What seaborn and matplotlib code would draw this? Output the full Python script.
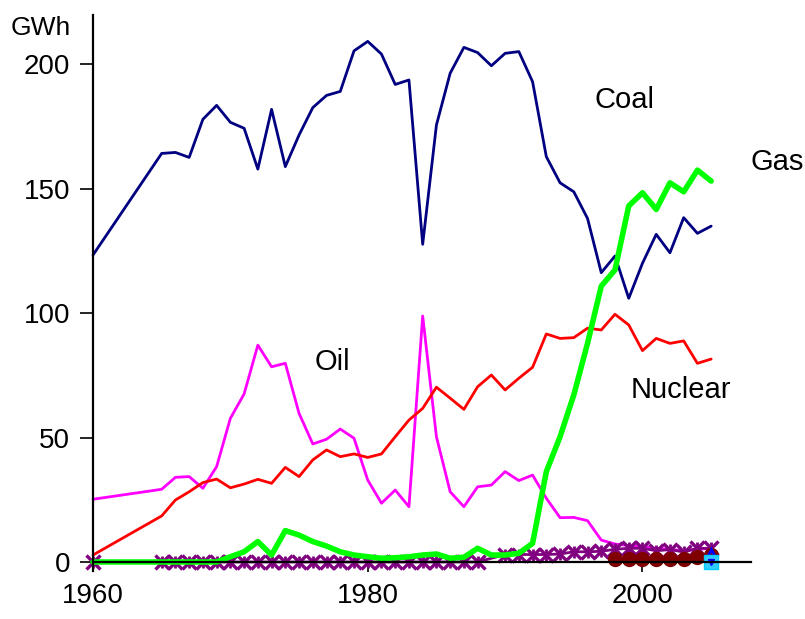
import numpy as np
import pandas as pd
import matplotlib
matplotlib.use("Agg")
import matplotlib.pyplot as plt
import seaborn as sns

# years: 1960, then every year 1965-2005
years = [1960, 1965, 1966, 1967, 1968, 1969, 1970, 1971, 1972, 1973, 1974,
         1975, 1976, 1977, 1978, 1979, 1980, 1981, 1982, 1983, 1984, 1985,
         1986, 1987, 1988, 1989, 1990, 1991, 1992, 1993, 1994, 1995, 1996,
         1997, 1998, 1999, 2000, 2001, 2002, 2003, 2004, 2005]

coal = [123.3, 164.1, 164.5, 162.5, 177.8, 183.4, 176.6, 174.2, 157.8, 181.8, 158.8,
        171.5, 182.5, 187.4, 189.0, 205.3, 209.1, 204.0, 191.8, 193.6, 127.6, 175.5,
        196.3, 206.7, 204.6, 199.3, 204.3, 205.0, 192.9, 162.8, 152.3, 148.7, 138.0,
        116.2, 122.9, 105.9, 120.0, 131.6, 124.2, 138.3, 132.0, 134.9]

oil = [25.2, 29.2, 34.0, 34.3, 29.6, 38.3, 57.7, 67.5, 87.1, 78.4, 79.8,
       59.7, 47.4, 49.3, 53.4, 49.7, 32.9, 23.6, 28.9, 22.2, 98.8, 50.3,
       28.2, 22.2, 30.2, 30.9, 36.3, 32.7, 34.9, 25.6, 17.8, 17.9, 16.6,
       8.8, 7.2, 6.6, 6.1, 5.5, 5.1, 4.5, 5.1, 5.5]

nuclear = [2.8, 18.5, 24.9, 28.2, 31.9, 33.3, 29.8, 31.3, 33.2, 31.6, 38.0,
           34.3, 41.0, 45.0, 42.3, 43.4, 42.0, 43.4, 50.3, 57.0, 61.7, 70.2,
           65.8, 61.3, 70.4, 75.1, 69.1, 73.8, 78.2, 91.6, 89.8, 90.1, 93.9,
           93.2, 99.5, 95.2, 84.9, 89.8, 87.8, 88.8, 79.8, 81.5]

gas = [0.0, 0.0, 0.0, 0.0, 0.0, 0.0, 2.1, 4.1, 8.2, 2.8, 12.6,
       10.8, 8.2, 6.4, 4.1, 2.8, 2.1, 1.5, 1.7, 2.1, 2.8, 3.2,
       1.5, 1.9, 5.5, 2.8, 2.8, 3.5, 7.5, 36.3, 50.3, 67.1, 87.8,
       110.8, 117.3, 143.0, 148.3, 141.6, 152.3, 148.7, 157.4, 153.0]

# purple asterisk series (no value for 1989)
other_years = [1960, 1965, 1966, 1967, 1968, 1969, 1970, 1971, 1972, 1973, 1974,
               1975, 1976, 1977, 1978, 1979, 1980, 1981, 1982, 1983, 1984, 1985,
               1986, 1987, 1988, 1990, 1991, 1992, 1993, 1994, 1995, 1996,
               1997, 1998, 1999, 2000, 2001, 2002, 2003, 2004, 2005]
other = [0, 0, 0, 0, 0, 0, 0, 0, 0, 0, 0,
         0, 0, 0, 0, 0, 0, 0, 0, 0, 0, 0,
         0, 0, 0, 3.0, 3.0, 3.0, 3.0, 3.2, 4.1, 4.1,
         4.3, 5.1, 5.5, 5.5, 4.5, 5.0, 4.0, 5.5, 5.5]

# dark red circles
wind_years = [1998, 1999, 2000, 2001, 2002, 2003, 2004, 2005]
wind = [1.0, 1.0, 1.0, 1.0, 1.0, 1.0, 2.0, 3.0]

# single 2005 points
tri_years = [2005]
tri_up = [2.8]
sq = [0.0]

sns.set_style("white")
plt.rcParams['font.family'] = ['Liberation Sans', 'DejaVu Sans']

fig = plt.figure(figsize=(8.05, 6.19), dpi=100)
ax = fig.add_axes([93 / 805, 1 - 570.7 / 619, (751 - 93) / 805, (570.7 - 15) / 619])

sns.lineplot(x=years, y=oil, color="#FF00FF", lw=2.0, ax=ax, clip_on=False)
sns.lineplot(x=years, y=nuclear, color="#FF0000", lw=2.0, ax=ax, clip_on=False)
sns.lineplot(x=years, y=coal, color="#000080", lw=2.0, ax=ax, clip_on=False)
sns.lineplot(x=other_years, y=other, color="#800080", lw=2.0, marker="x",
             markersize=10.5, markeredgewidth=2.4, markeredgecolor="#800080",
             ax=ax, clip_on=False)
ax.plot(other_years, other, marker="|", markersize=8, markeredgewidth=2.0,
        color="#800080", linestyle="none", clip_on=False)
sns.lineplot(x=years, y=gas, color="#00FF00", lw=4.0, ax=ax, clip_on=False)
sns.lineplot(x=wind_years, y=wind, color="#800000", lw=2.0, marker="o",
             markersize=11, markeredgewidth=0, ax=ax, clip_on=False)
ax.plot(tri_years, tri_up, marker="^", color="#0000FF", markersize=8,
        markerfacecolor="none", markeredgewidth=2, linestyle="none", clip_on=False)
ax.plot(tri_years, sq, marker="s", markersize=10, markerfacecolor="#33CCFF",
        markeredgecolor="#00CCFF", linestyle="none", clip_on=False)
ax.plot(tri_years, sq, marker="v", markersize=5, color="#0000FF",
        linestyle="none", clip_on=False)

ax.set_xlim(1960, 2007.9)
ax.set_ylim(-3.5, 219.7)
ax.spines["top"].set_visible(False)
ax.spines["right"].set_visible(False)
ax.spines["bottom"].set_position(("data", 0))
for s in ["left", "bottom"]:
    ax.spines[s].set_color("black")
    ax.spines[s].set_linewidth(1.6)

ax.set_xticks([1960, 1980, 2000])
ax.set_yticks([0, 50, 100, 150, 200])
ax.tick_params(axis="y", direction="out", length=9.5, width=1.2, pad=7,
               labelsize=20, left=True, color="black", labelcolor="black")
ax.tick_params(axis="x", direction="out", length=7, width=1.2, pad=8,
               labelsize=20, bottom=True, color="black", labelcolor="black")
ax.set_xlabel("")
ax.set_ylabel("")

txt = dict(fontsize=21, color="black", va="baseline")
ax.text(1998.7, 182.3, "Coal", ha="center", **txt)
ax.text(2007.9, 157.4, "Gas", ha="left", clip_on=False, **txt)
ax.text(1977.4, 77.1, "Oil", ha="center", **txt)
ax.text(2002.8, 65.7, "Nuclear", ha="center", **txt)
fig.text(41 / 805, 1 - 35 / 619, "GWh", ha="center", va="baseline", fontsize=19,
         color="black")

fig.savefig("out.png", dpi=100)
